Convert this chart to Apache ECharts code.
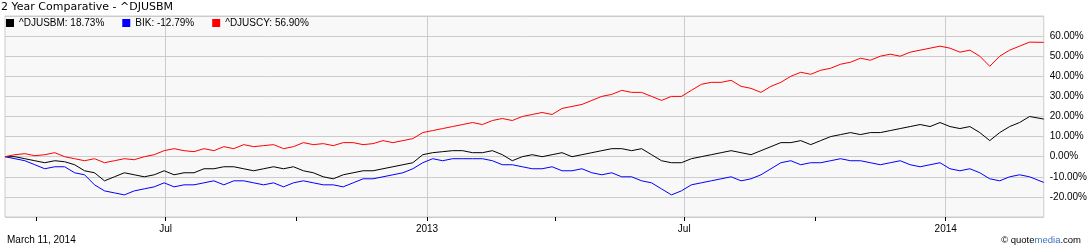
<!DOCTYPE html>
<html>
<head>
<meta charset="utf-8">
<script src="https://cdn.jsdelivr.net/npm/echarts@6/dist/echarts.min.js"></script>
<style>
html,body{margin:0;padding:0;background:#fff;}
#c{width:1090px;height:250px;}
</style>
</head>
<body>
<div id="c"></div>
<script>
// ---- data (weekly samples, % change since start) ----
const startDate = '2012-03-10';
const endDate = '2014-03-11';
const seriesNames = ['^DJUSBM', 'BIK', '^DJUSCY'];
const djusbm = [0,0,-1,-2,-3,-2,-2.5,-4,-7,-8,-12,-10,-8,-9,-10,-9,-7,-9,-8,-8,-6,-6,-5,-5,-6,-7,-6,-5,-6,-5,-7,-8,-10,-11,-9,-8,-7,-7,-6,-5,-4,-3,1,2,2.5,3,3,2,2,3,1,-2,0,1,0,1,2,0,1,2,3,4,4,3,4,1,-2,-3,-3,-1,0,1,2,3,2,1,3,5,7,7,8,6,8,10,11,12,11,12,12,13,14,15,16,15,17,15,14,15,12,8,12,15,17,20,18.73];
const bik = [0,-1,-2,-4,-6,-5,-5,-8,-9,-14,-17,-18,-19,-17,-16,-15,-13,-15,-14,-14,-13,-12,-14,-12,-12,-13,-14,-13,-15,-13,-12,-13,-14,-14,-15,-13,-11,-11,-10,-9,-8,-6,-3,-1,-2,-1,-1,-1,-1,-2,-4,-4,-5,-6,-6,-5,-7,-7,-6,-8,-9,-8,-10,-10,-12,-13,-16,-19,-17,-14,-13,-12,-11,-10,-12,-11,-9,-6,-3,-2,-4,-3,-3,-2,-1,-2,-2,-3,-4,-3,-2,-4,-5,-4,-3,-6,-7,-6,-8,-11,-12,-10,-9,-10,-12.79];
const djuscy = [0,1,1.5,0.5,1,2,0,-1,-2,-1,-3,-2,-1,-1.5,0,1,3,4,3,2.5,4,3,5,4,6,5,5.5,6,4,5,7,6,6.5,5.5,7,7,6,6.5,8,7,8,9,12,13,14,15,16,17,16,18,19,18,20,21,22,21,24,25,26,28,30,31,33,32,32,30,28,30,30,33,36,37,37,38,35,34,32,35,37,40,42,41,43,44,46,47,49,48,50,51,50,52,53,54,55,54,52,53,50,45,50,53,55,57,56.9];
const gridDates = ['2012-07-01', '2013-01-01', '2013-07-01', '2014-01-01'];
const tickDates = ['2012-04-01', '2012-07-01', '2012-10-01', '2013-01-01', '2013-04-01', '2013-07-01', '2013-10-01', '2014-01-01'];
const yTicks = [-20, -10, 0, 10, 20, 30, 40, 50, 60];

function ts(s) { const p = s.split('-').map(Number); return new Date(p[0], p[1] - 1, p[2]).getTime(); }
// weekly sample dates
function buildDates(n) {
  const out = [];
  const d0 = new Date(ts(startDate));
  for (let i = 0; i < n - 1; i++) {
    out.push(new Date(d0.getFullYear(), d0.getMonth(), d0.getDate() + 7 * i).getTime());
  }
  out.push(ts(endDate));
  return out;
}
const dates = buildDates(djusbm.length);
const pair = arr => arr.map((v, i) => [dates[i], v]);

const FONT = 'Liberation Sans, Arial, sans-serif';
const chart = echarts.init(document.getElementById('c'), null, {renderer: 'canvas'});
const valsAll = [djusbm, bik, djuscy];
const colors = ['#000000', '#0000ff', '#ff0000'];

chart.setOption({
  animation: false,
  backgroundColor: '#ffffff',
  grid: {left: 5, right: 45, top: 16, height: 201, show: true, borderColor: '#cccccc', borderWidth: 1, backgroundColor: '#f8f8f8'},
  legend: {
    left: 6, top: 18, padding: 0, itemGap: 18, itemWidth: 8, itemHeight: 8, icon: 'rect',
    textStyle: {fontSize: 10, color: '#000', fontFamily: FONT},
    data: seriesNames,
    formatter: function (name) {
      const idx = seriesNames.indexOf(name);
      const arr = valsAll[idx];
      return name + ': ' + arr[arr.length - 1].toFixed(2) + '%';
    }
  },
  graphic: [
    {type: 'text', left: 1, top: 2, style: {text: '2 Year Comparative - ^DJUSBM', font: '11px DejaVu Sans', fill: '#000'}},
    {type: 'text', left: 7, top: 235, style: {text: 'March 11, 2014', font: '10px ' + FONT, fill: '#000'}},
    {type: 'text', right: 9, top: 235, style: {
      text: '{a|© quote}{b|media}{a|.com}',
      rich: {a: {font: '9.5px ' + FONT, fill: '#000'}, b: {font: '9.5px ' + FONT, fill: '#3a6fc4'}}
    }}
  ],
  xAxis: [
    {
      type: 'value', min: ts(startDate), max: ts(endDate),
      axisLine: {show: true, lineStyle: {color: '#cccccc'}},
      axisTick: {show: false, customValues: gridDates.map(ts)},
      splitLine: {show: true, lineStyle: {color: '#cccccc', width: 1}},
      axisLabel: {
        customValues: gridDates.map(ts), margin: 7, color: '#000', fontSize: 10, fontFamily: FONT,
        formatter: function (v) { const d = new Date(v); return d.getMonth() === 6 ? 'Jul' : String(d.getFullYear()); }
      }
    },
    {
      type: 'value', min: ts(startDate), max: ts(endDate), position: 'bottom',
      axisLine: {show: false},
      axisTick: {show: true, length: 4, customValues: tickDates.map(ts), lineStyle: {color: '#000'}},
      splitLine: {show: false},
      axisLabel: {show: false}
    }
  ],
  yAxis: {
    type: 'value', position: 'right', min: -30, max: 70, interval: 10,
    axisLine: {show: false}, axisTick: {show: false},
    splitLine: {show: true, lineStyle: {color: '#cccccc', width: 1}},
    axisLabel: {
      customValues: yTicks,
      margin: 6, color: '#000', fontSize: 10, fontFamily: FONT,
      formatter: v => v.toFixed(2) + '%'
    }
  },
  series: seriesNames.map((n, i) => ({
    name: n, type: 'line', data: pair(valsAll[i]), showSymbol: false, symbol: 'none',
    lineStyle: {width: 1, color: colors[i]}, itemStyle: {color: colors[i]}, z: 3 + i
  }))
});
</script>
</body>
</html>
